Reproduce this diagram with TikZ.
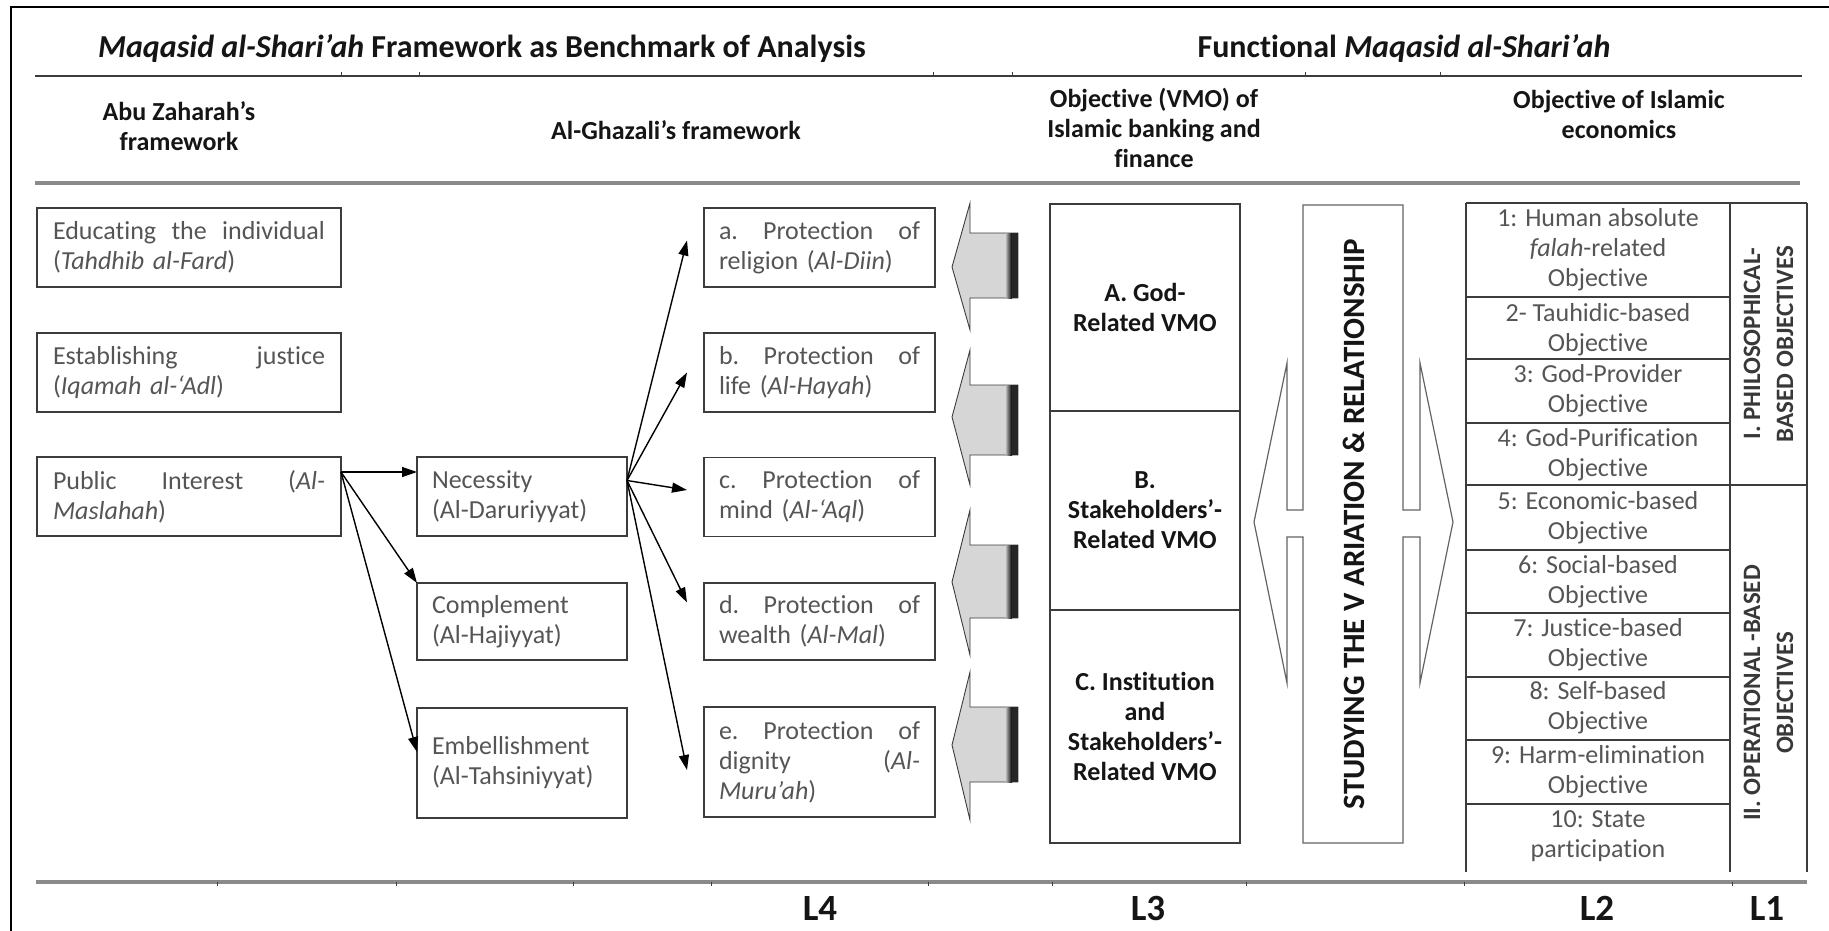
\documentclass[tikz,border=0pt]{standalone}
\usepackage{fontspec}
\setmainfont{Carlito}[Ligatures=NoCommon]
\usetikzlibrary{arrows.meta,calc}
\definecolor{boxln}{HTML}{3C3C3C}
\definecolor{txt}{HTML}{555555}
\definecolor{hd}{HTML}{151515}
\definecolor{rl}{HTML}{8A8A8A}
\definecolor{chev}{HTML}{D6D6D6}
\newcommand\bodyf{\fontsize{26}{30}\selectfont}
\newcommand\headf{\bfseries\fontsize{26}{30}\selectfont}
\newcommand\titlef{\bfseries\fontsize{32}{36}\selectfont}
\newcommand\levf{\bfseries\fontsize{37}{42}\selectfont}
\newcommand\grpf{\bfseries\fontsize{25}{30}\selectfont}
\begin{document}
\begin{tikzpicture}[x=1pt,y=-1pt,
  every node/.style={inner sep=0pt,outer sep=0pt},
  lbox/.style={draw=boxln,line width=1.8pt,text=txt,font=\bodyf,align=left,text width=272pt,minimum width=304pt,minimum height=79pt},
  mbox/.style={draw=boxln,line width=1.8pt,text=txt,font=\bodyf,align=left,text width=180pt,minimum width=210pt,minimum height=#1},
  pbox/.style={draw=boxln,line width=1.8pt,text=txt,font=\bodyf,align=left,text width=201pt,minimum width=231pt,minimum height=#1},
  vbox/.style={draw=boxln,line width=1.5pt,text=hd,font=\headf,align=center,minimum width=190pt,minimum height=#1},
  hdr/.style={text=hd,font=\headf,align=center},
  ttxt/.style={text=txt,font=\bodyf,align=center},
  grp/.style={text=hd!85,font=\grpf,rotate=90},
  lev/.style={text=hd,font=\levf},
  arr/.style={-{Triangle[length=15pt,width=10pt]},line width=1.4pt,black},
  tline/.style={draw=boxln,line width=1.8pt}
]
\useasboundingbox (0,0) rectangle (1829,931);
% outer frame
\draw[line width=2.5pt] (11,931) -- (11,7) -- (1829,7);
% title row
\node[font=\titlef,text=hd,anchor=base] (t1) at (482,58) {\textit{Maqasid al-Shari’ah} Framework as Benchmark of Analysis};
\node[font=\titlef,text=hd,anchor=base] (t2) at (1404,58) {Functional \textit{Maqasid al-Shari’ah}};
% rules
\draw[draw=boxln,line width=2.5pt] (35,76) -- (1802,76);
\foreach \x in {341,419,933,1012,1305,1440} \draw[draw=boxln,line width=1pt] (\x,76) -- (\x,72);
\draw[draw=rl,line width=4.5pt] (35,183) -- (1800,183);
\draw[draw=rl,line width=4pt] (36,882) -- (1807,882);
\foreach \x in {217,396,573,711,928,1052,1246,1464,1732} \draw[draw=boxln,line width=1pt] (\x,882) -- (\x,886);
% column headers
\node[hdr] (h1) at (179,126) {Abu Zaharah’s\\framework};
\node[hdr] (h2) at (676,130) {Al-Ghazali’s framework};
\node[hdr] (h3) at (1154,128) {Objective (VMO) of\\Islamic banking and\\finance};
\node[hdr] (h4) at (1619,114) {Objective of Islamic\\economics};
% Abu Zaharah column
\node[lbox] (edu) at (189,247.5) {Educating\hfill the\hfill individual\\(\textit{Tahdhib al-Fard})};
\node[lbox] (est) at (189,372.5) {Establishing\hfill justice\\(\textit{Iqamah al-‘Adl})};
\node[lbox] (pi) at (189,496.5) {Public\hfill Interest\hfill (\textit{Al-}\\\textit{Maslahah})};
% Al-Ghazali levels
\node[mbox=79pt] (nec) at (522,496.5) {Necessity\\(Al-Daruriyyat)};
\node[mbox=77pt] (comp) at (522,621.5) {Complement\\(Al-Hajiyyat)};
\node[mbox=110pt] (emb) at (522,763) {Embellishment\\(Al-Tahsiniyyat)};
% protections
\node[pbox=79pt] (pa) at (819.5,247.5) {a.\hfill Protection\hfill of\\religion (\textit{Al-Diin})};
\node[pbox=79pt] (pb) at (819.5,372.5) {b.\hfill Protection\hfill of\\life (\textit{Al-Hayah})};
\node[pbox=79pt] (pc) at (819.5,497) {c.\hfill Protection\hfill of\\mind (\textit{Al-‘Aql})};
\node[pbox=77pt] (pd) at (819.5,621.5) {d.\hfill Protection\hfill of\\wealth (\textit{Al-Mal})};
\node[pbox=110pt] (pe) at (819.5,762) {e.\hfill Protection\hfill of\\dignity\hfill (\textit{Al-}\\\textit{Muru’ah})};
% arrows
\coordinate (piout) at ($(pi.north east)+(0,15)$);
\draw[arr] (piout) -- (nec.west |- piout);
\draw[arr] (piout) -- (comp.north west);
\draw[arr] (piout) -- ($(emb.west)+(0,-11)$);
\coordinate (necout) at ($(nec.east)+(0,-16)$);
\draw[arr] (necout) -- ($(pa.west)+(-17,-7)$);
\draw[arr] (necout) -- ($(pb.west)+(-17,0)$);
\draw[arr] (necout) -- ($(pc.west)+(-17,-7)$);
\draw[arr] (necout) -- ($(pd.west)+(-17,-19)$);
\draw[arr] (necout) -- ($(pe.west)+(-17,8)$);
% block arrows (chevrons)
\foreach \yt/\ya/\ym/\yb/\yz in {203/233/267/298/330,350/385/417/455/485,510/545/582/618/655,672/707/745/782/820}{
  \filldraw[fill=chev,draw=boxln,line width=0.9pt] (952,\ym) -- (970,\yt) -- (970,\ya) -- (1018,\ya) -- (1018,\yb) -- (970,\yb) -- (970,\yz) -- cycle;
  \shade[left color=gray!60,right color=black] (1006,\ya) rectangle (1012,\yb);
  \fill[black!85] (1012,\ya) rectangle (1018,\yb);
}
% VMO boxes
\node[vbox=207pt] (va) at (1145,307.5) {A. God-\\Related VMO};
\node[vbox=199pt] (vb) at (1145,510.5) {B.\\Stakeholders’-\\Related VMO};
\node[vbox=233pt] (vc) at (1145,726.5) {C. Institution\\and\\Stakeholders’-\\Related VMO};
% double arrow with studying box
\draw[draw=boxln!80,line width=1.2pt] (1303,205) -- (1403,205) -- (1403,510) -- (1420,510) -- (1420,363) -- (1453,522) -- (1420,683) -- (1420,537) -- (1403,537) -- (1403,843) -- (1303,843) -- (1303,537) -- (1287,537) -- (1287,683) -- (1254,522) -- (1287,363) -- (1287,510) -- (1303,510) -- cycle;
\node[rotate=90,text=hd,font=\bfseries\fontsize{31}{36}\selectfont] (study) at (1354,524) {STUDYING THE V ARIATION \& RELATIONSHIP};
% objectives table
\draw[tline] (1466,203) -- (1807,203);
\draw[tline] (1466,203) -- (1466,872);
\draw[tline] (1730,203) -- (1730,872);
\draw[tline] (1807,203) -- (1807,872);
\foreach \y in {297,359,423,485,550,613,677,740,804} \draw[tline] (1466,\y) -- (1730,\y);
\draw[tline] (1730,485) -- (1807,485);
\node[ttxt] (r1) at (1598,250) {1: Human absolute\\\textit{falah}-related\\Objective};
\node[ttxt] (r2) at (1598,330) {2- Tauhidic-based\\Objective};
\node[ttxt] (r3) at (1598,391) {3: God-Provider\\Objective};
\node[ttxt] (r4) at (1598,455) {4: God-Purification\\Objective};
\node[ttxt] (r5) at (1598,518) {5: Economic-based\\Objective};
\node[ttxt] (r6) at (1598,582) {6: Social-based\\Objective};
\node[ttxt] (r7) at (1598,645) {7: Justice-based\\Objective};
\node[ttxt] (r8) at (1598,708) {8: Self-based\\Objective};
\node[ttxt] (r9) at (1598,772) {9: Harm-elimination\\Objective};
\node[ttxt] (r10) at (1598,836) {10: State\\participation};
\node[grp] (g1a) at (1752,344) {I. PHILOSOPHICAL-};
\node[grp] (g1b) at (1785,344) {BASED OBJECTIVES};
\node[grp] (g2a) at (1752,693) {II. OPERATIONAL -BASED};
\node[grp] (g2b) at (1785,693) {OBJECTIVES};
% levels
\node[lev] (l4) at (820,908) {L4};
\node[lev] (l3) at (1148,908) {L3};
\node[lev] (l2) at (1597,908) {L2};
\node[lev] (l1) at (1767,908) {L1};
\end{tikzpicture}
\end{document}
